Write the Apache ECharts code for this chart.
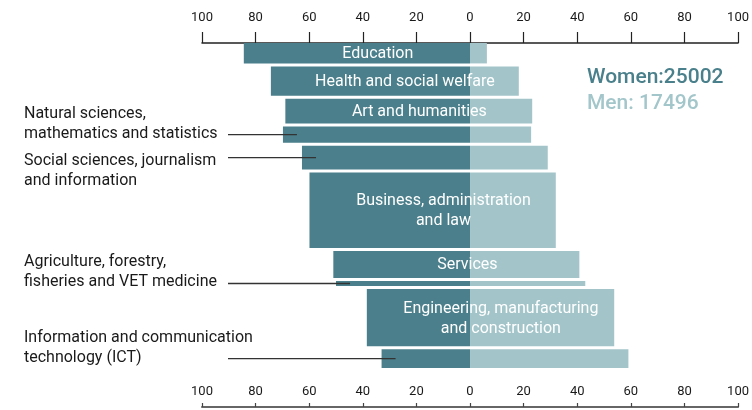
<!DOCTYPE html>
<html>
<head>
<meta charset="utf-8">
<script src="https://cdn.jsdelivr.net/npm/echarts@6/dist/echarts.min.js"></script>
<style>html,body{margin:0;padding:0;background:#fff;}#c{width:752px;height:410px;}</style>
</head>
<body>
<div id="c"></div>
<script>
// ---- data ----
var categories = [
  'Education',
  'Health and social welfare',
  'Art and humanities',
  'Natural sciences,\nmathematics and statistics',
  'Social sciences, journalism\nand information',
  'Business, administration\nand law',
  'Services',
  'Agriculture, forestry,\nfisheries and VET medicine',
  'Engineering, manufacturing\nand construction',
  'Information and communication\ntechnology (ICT)'
];
var womenPct = [84.4, 74.3, 68.9, 69.8, 62.7, 59.9, 51.0, 50.0, 38.5, 33.0];
var menPct   = [6.3, 18.2, 23.2, 22.8, 29.0, 32.0, 40.8, 43.0, 53.8, 59.1];
var fieldSize = [3035, 4190, 3593, 2503, 3463, 10157, 3892, 1038, 7822, 2802];
// where each field's name is written: inside the bar, or at the left with a leader line
var labelPlace = ['in', 'in', 'in', 'leftAbove', 'leftBelow', 'in', 'in', 'leftAbove', 'in', 'leftAbove'];
var axisTicks = [-100, -80, -60, -40, -20, 0, 20, 40, 60, 80, 100];
var womenTotal = 25002;
var menTotal = 17496;

// ---- styles ----
var womenColor = '#4a7f8b';
var menColor = '#a3c5ca';
var gapPx = 3;

var rows = [];
var cum = 0;
for (var i = 0; i < categories.length; i++) {
  rows.push([cum, cum + fieldSize[i], womenPct[i], menPct[i], i]);
  cum += fieldSize[i];
}
var total = cum;

function renderItem(params, api) {
  var start = api.value(0), end = api.value(1);
  var w = api.value(2), m = api.value(3);
  var idx = api.value(4);
  var pL = api.coord([-w, start]);
  var pZ = api.coord([0, start]);
  var pR = api.coord([m, end]);
  var pC = api.coord([50 - w, start]);
  var y0 = pL[1];
  var h = pR[1] - y0 - gapPx;
  var children = [
    { type: 'rect', shape: { x: pL[0], y: y0, width: pZ[0] - pL[0], height: h }, style: { fill: womenColor } },
    { type: 'rect', shape: { x: pZ[0], y: y0, width: pR[0] - pZ[0], height: h }, style: { fill: menColor } }
  ];
  var cy = y0 + h / 2;
  var place = labelPlace[idx];
  if (place === 'in') {
    children.push({
      type: 'text', z2: 10,
      style: {
        text: categories[idx], x: pC[0], y: cy + 1,
        align: 'center', verticalAlign: 'middle',
        fill: '#ffffff', font: '16px Roboto', lineHeight: 20
      }
    });
  } else {
    children.push({
      type: 'line', z2: 10,
      shape: { x1: 228, y1: cy, x2: pL[0] + 14, y2: cy },
      style: { stroke: '#333', lineWidth: 1.3 }
    });
    children.push({
      type: 'text', z2: 10,
      style: {
        text: categories[idx], x: 24,
        y: place === 'leftAbove' ? cy + 9 : cy - 7,
        align: 'left', verticalAlign: place === 'leftAbove' ? 'bottom' : 'top',
        fill: '#1a1a1a', font: '16px Roboto', lineHeight: 20
      }
    });
  }
  return { type: 'group', children: children };
}

var chart = echarts.init(document.getElementById('c'), null, { renderer: 'canvas' });
var absFmt = function (v) { return String(Math.abs(v)); };
chart.setOption({
  animation: false,
  backgroundColor: '#ffffff',
  textStyle: { fontFamily: 'Roboto' },
  grid: { left: 202, right: 12, top: 43, bottom: 39 },
  xAxis: [
    {
      type: 'value', position: 'top', offset: 3,
      min: axisTicks[0], max: axisTicks[axisTicks.length - 1], interval: 20,
      axisLine: { show: true, lineStyle: { color: '#222', width: 1.5 } },
      axisTick: { show: true, length: 11, lineStyle: { color: '#222', width: 1.2 } },
      axisLabel: { formatter: absFmt, color: '#1a1a1a', fontSize: 13, margin: 16, fontFamily: 'Roboto' },
      splitLine: { show: false }
    },
    {
      type: 'value', position: 'bottom', offset: 36,
      min: axisTicks[0], max: axisTicks[axisTicks.length - 1], interval: 20,
      axisLine: { show: true, lineStyle: { color: '#666', width: 2 } },
      axisTick: { show: true, inside: true, length: 4, lineStyle: { color: '#444', width: 1.2 } },
      axisLabel: { formatter: absFmt, inside: true, color: '#1a1a1a', fontSize: 13, margin: 9, fontFamily: 'Roboto' },
      splitLine: { show: false }
    }
  ],
  yAxis: { type: 'value', inverse: true, min: 0, max: total, show: false },
  series: [{
    type: 'custom',
    xAxisIndex: 0,
    renderItem: renderItem,
    encode: { x: [2, 3], y: [0, 1] },
    data: rows
  }],
  graphic: [
    { type: 'text', left: 587, top: 67, style: { text: 'Women:' + womenTotal, fill: '#4a808b', font: '500 21px Roboto' } },
    { type: 'text', left: 587, top: 93, style: { text: 'Men: ' + menTotal, fill: '#a3c6ca', font: '500 21px Roboto' } }
  ]
});
</script>
</body>
</html>
